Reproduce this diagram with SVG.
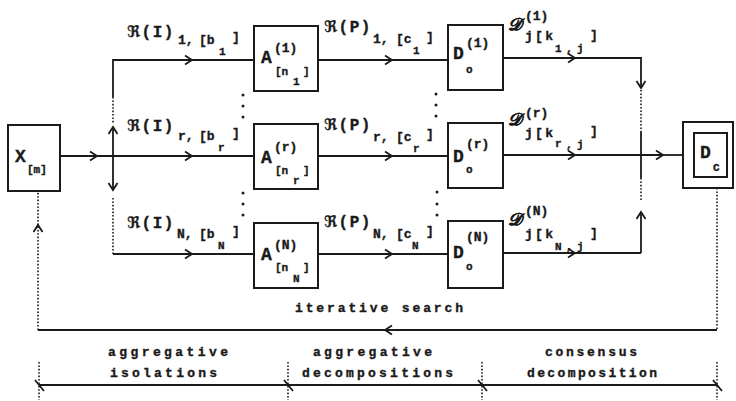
<svg xmlns="http://www.w3.org/2000/svg" width="736" height="401" viewBox="0 0 736 401">
<style>
.ln{stroke:#1a1a1a;stroke-width:1.8;fill:none}
.dt{stroke:#1a1a1a;stroke-width:1.6;stroke-dasharray:1.6 1.8;fill:none}
.bx{fill:none;stroke:#1a1a1a;stroke-width:2}
text{font-family:"Liberation Mono","DejaVu Sans Mono","DejaVu Sans",monospace;font-weight:bold;fill:#1a1a1a;stroke:#1a1a1a;stroke-width:0.35}
.L{font-size:18px}
.R{font-size:16px;letter-spacing:1.5px}
.M{font-size:13px}
.S{font-size:11px}
.T{font-size:13px}
.sc{font-family:"DejaVu Serif","Liberation Serif",serif;font-style:italic;font-size:17px}
</style>
<defs>
<marker id="ah" viewBox="-9 -6 11 12" refX="0" refY="0" markerWidth="11" markerHeight="12" markerUnits="userSpaceOnUse" orient="auto">
<path d="M-7,-4.5 L0,0 L-7,4.5" fill="none" stroke="#1a1a1a" stroke-width="1.8"/>
</marker>
</defs>
<rect width="736" height="401" fill="#fff"/>

<g id="connectors">
<path class="ln" d="M60,156 L97,156" marker-end="url(#ah)"/>
<path class="ln" d="M97,156 L192,156" marker-end="url(#ah)"/>
<path class="ln" d="M192,156 L254,156"/>
<path class="ln" d="M113,97 L113,60 L192,60" marker-end="url(#ah)"/>
<path class="ln" d="M192,60 L254,60"/>
<path class="dt" d="M113,97 L113,124"/>
<path class="ln" d="M113,156 L113,127" marker-end="url(#ah)"/>
<path class="ln" d="M113,156 L113,190" marker-end="url(#ah)"/>
<path class="dt" d="M113,198 L113,254"/>
<path class="ln" d="M113,254 L192,254" marker-end="url(#ah)"/>
<path class="ln" d="M192,254 L254,254"/>
<path class="ln" d="M318,60 L392,60" marker-end="url(#ah)"/>
<path class="ln" d="M392,60 L448,60"/>
<path class="ln" d="M318,156 L392,156" marker-end="url(#ah)"/>
<path class="ln" d="M392,156 L448,156"/>
<path class="ln" d="M318,254 L392,254" marker-end="url(#ah)"/>
<path class="ln" d="M392,254 L448,254"/>
<path class="ln" d="M503,58 L575,58" marker-end="url(#ah)"/>
<path class="ln" d="M575,58 L641,58 L641,88" marker-end="url(#ah)"/>
<path class="dt" d="M641,90 L641,132"/>
<path class="ln" d="M641,132 L641,178"/>
<path class="dt" d="M641,178 L641,200"/>
<path class="ln" d="M641,253 L641,212" marker-end="url(#ah)"/>
<path class="ln" d="M503,253 L575,253" marker-end="url(#ah)"/>
<path class="ln" d="M575,253 L641,253"/>
<path class="ln" d="M503,155 L575,155" marker-end="url(#ah)"/>
<path class="ln" d="M575,155 L663,155" marker-end="url(#ah)"/>
<path class="ln" d="M663,155 L683,155"/>
<path class="dt" d="M717,188 L717,330"/>
<path class="ln" d="M717,330 L385,330" marker-end="url(#ah)"/>
<path class="ln" d="M385,330 L38,330"/>
<path class="dt" d="M38,330 L38,225" marker-end="url(#ah)"/>
<path class="dt" d="M38,225 L38,191"/>
<g fill="#1a1a1a">
<circle cx="243" cy="95" r="1.5"/><circle cx="243" cy="106" r="1.5"/><circle cx="243" cy="117" r="1.5"/>
<circle cx="436" cy="94" r="1.5"/><circle cx="436" cy="105" r="1.5"/><circle cx="436" cy="116" r="1.5"/>
<circle cx="243" cy="193" r="1.5"/><circle cx="243" cy="204" r="1.5"/><circle cx="243" cy="215" r="1.5"/>
<circle cx="437" cy="192" r="1.5"/><circle cx="437" cy="204" r="1.5"/><circle cx="437" cy="215" r="1.5"/>
</g>
</g>

<g id="X">
<rect class="bx" x="8" y="125" width="52" height="66"/>
<text class="L" x="15" y="162">X</text>
<text class="S" x="27" y="173">[m]</text>
</g>

<g id="A1">
<rect class="bx" x="254" y="26" width="64" height="65"/>
<text class="L" x="261" y="63">A</text>
<text class="M" x="274" y="52">(1)</text>
<text class="S" x="275" y="75">[n</text>
<text class="S" x="293" y="85">1</text>
<text class="S" x="303" y="75">]</text>
</g>
<g id="Ar">
<rect class="bx" x="254" y="124" width="64" height="65"/>
<text class="L" x="261" y="163">A</text>
<text class="M" x="274" y="151">(r)</text>
<text class="S" x="275" y="174">[n</text>
<text class="S" x="293" y="184">r</text>
<text class="S" x="303" y="174">]</text>
</g>
<g id="AN">
<rect class="bx" x="254" y="223" width="64" height="65"/>
<text class="L" x="261" y="260">A</text>
<text class="M" x="274" y="249">(N)</text>
<text class="S" x="275" y="271">[n</text>
<text class="S" x="293" y="282">N</text>
<text class="S" x="303" y="271">]</text>
</g>

<g id="D1">
<rect class="bx" x="448" y="25" width="55" height="65"/>
<text class="L" x="453" y="59">D</text>
<text class="M" x="466" y="47">(1)</text>
<text class="S" x="466" y="73">o</text>
</g>
<g id="Dr">
<rect class="bx" x="448" y="123" width="55" height="65"/>
<text class="L" x="453" y="162">D</text>
<text class="M" x="466" y="148">(r)</text>
<text class="S" x="466" y="173">o</text>
</g>
<g id="DN">
<rect class="bx" x="448" y="221" width="55" height="67"/>
<text class="L" x="453" y="258">D</text>
<text class="M" x="466" y="241">(N)</text>
<text class="S" x="466" y="270">o</text>
</g>

<g id="DC">
<rect class="bx" x="683" y="122" width="50" height="66"/>
<rect class="bx" x="694" y="133" width="33" height="44"/>
<text class="L" x="700" y="158">D</text>
<text class="S" x="713" y="171">C</text>
</g>

<g id="labels-RI">
<text class="R" x="127" y="37">ℜ(I)</text>
<text class="M" x="178" y="44">1,</text>
<text class="M" x="199" y="44">[b</text>
<text class="S" x="219" y="55">1</text>
<text class="M" x="232" y="41">]</text>
<text class="R" x="127" y="131">ℜ(I)</text>
<text class="M" x="178" y="140">r,</text>
<text class="M" x="199" y="140">[b</text>
<text class="S" x="218" y="151">r</text>
<text class="M" x="232" y="137">]</text>
<text class="R" x="127" y="228">ℜ(I)</text>
<text class="M" x="177" y="238">N,</text>
<text class="M" x="199" y="238">[b</text>
<text class="S" x="218" y="249">N</text>
<text class="M" x="232" y="235">]</text>
</g>
<g id="labels-RP">
<text class="R" x="324" y="32">ℜ(P)</text>
<text class="M" x="373" y="43">1,</text>
<text class="M" x="396" y="43">[c</text>
<text class="S" x="413" y="54">1</text>
<text class="M" x="426" y="41">]</text>
<text class="R" x="324" y="130">ℜ(P)</text>
<text class="M" x="373" y="141">r,</text>
<text class="M" x="396" y="141">[c</text>
<text class="S" x="413" y="152">r</text>
<text class="M" x="426" y="138">]</text>
<text class="R" x="324" y="227">ℜ(P)</text>
<text class="M" x="373" y="238">N,</text>
<text class="M" x="396" y="238">[c</text>
<text class="S" x="412" y="249">N</text>
<text class="M" x="426" y="235">]</text>
</g>
<g id="labels-D">
<text class="sc" x="508" y="30">𝒟</text>
<text class="M" x="525" y="20">(1)</text>
<text class="M" x="525" y="40" textLength="28" lengthAdjust="spacing">j[k</text>
<text class="S" x="555" y="52">1</text>
<text class="S" x="566" y="52">,</text>
<text class="S" x="577" y="52">j</text>
<text class="M" x="590" y="39">]</text>
<text class="sc" x="508" y="125">𝒟</text>
<text class="M" x="525" y="117">(r)</text>
<text class="M" x="525" y="137" textLength="28" lengthAdjust="spacing">j[k</text>
<text class="S" x="555" y="147">r</text>
<text class="S" x="566" y="148">,</text>
<text class="S" x="577" y="148">j</text>
<text class="M" x="590" y="135">]</text>
<text class="sc" x="508" y="225">𝒟</text>
<text class="M" x="525" y="215">(N)</text>
<text class="M" x="525" y="238" textLength="28" lengthAdjust="spacing">j[k</text>
<text class="S" x="555" y="250">N</text>
<text class="S" x="566" y="250">,</text>
<text class="S" x="577" y="250">j</text>
<text class="M" x="590" y="237">]</text>
</g>

<g id="iterative">
<text class="T" x="295" y="312" textLength="168" lengthAdjust="spacing">iterative search</text>
</g>

<g id="phases">
<path class="ln" d="M39,385 L717,385"/>
<path class="dt" d="M39,362 L39,400 M288,362 L288,400 M482,362 L482,400 M717,362 L717,400"/>
<path class="ln" d="M35,380 L44,391 M284,380 L293,391 M478,380 L487,391 M713,380 L722,391"/>
<text class="T" x="108" y="356" textLength="120" lengthAdjust="spacing">aggregative</text>
<text class="T" x="110" y="377" textLength="107" lengthAdjust="spacing">isolations</text>
<text class="T" x="313" y="356" textLength="119" lengthAdjust="spacing">aggregative</text>
<text class="T" x="302" y="377" textLength="151" lengthAdjust="spacing">decompositions</text>
<text class="T" x="545" y="356" textLength="92" lengthAdjust="spacing">consensus</text>
<text class="T" x="527" y="377" textLength="130" lengthAdjust="spacing">decomposition</text>
</g>
</svg>
